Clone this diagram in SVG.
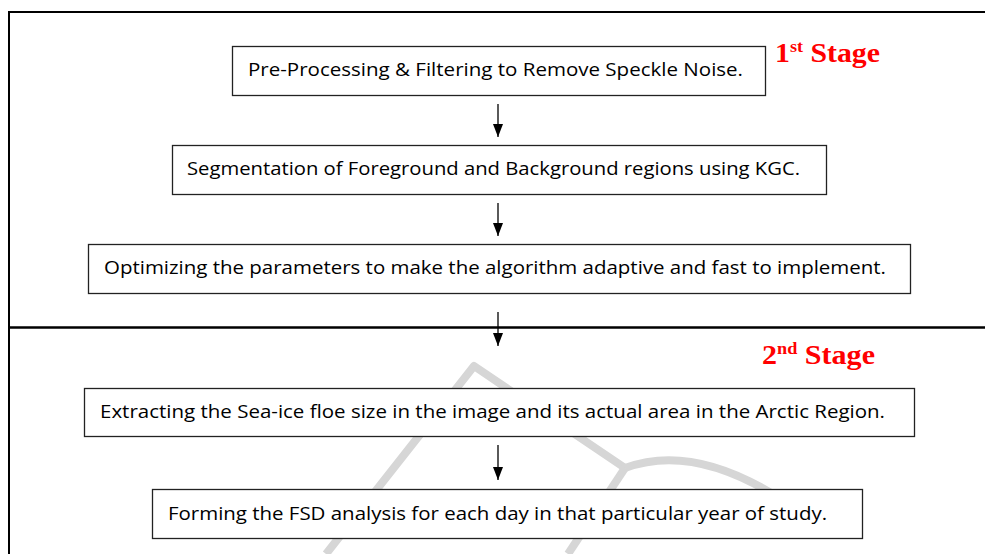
<svg xmlns="http://www.w3.org/2000/svg" width="985" height="554" viewBox="0 0 985 554">
<defs>
<style>
.box{fill:#fff;stroke:#222;stroke-width:1.3}
.t{font-family:"Open Sans","Noto Sans",sans-serif;font-size:19px;fill:#000}
.stage{font-family:"Liberation Serif",serif;font-weight:bold;font-size:28px;fill:#f00}
.sup{font-size:17px}
.frame{stroke:#000;stroke-width:2;fill:none}
.conn line{stroke:#000;stroke-width:1.3}
</style>
<marker id="ah2" markerWidth="10" markerHeight="13" refX="5" refY="13" orient="0" markerUnits="userSpaceOnUse" viewBox="0 0 10 13">
<path d="M0,0 L10,0 L5,13 Z" fill="#000"/>
</marker>
</defs>
<rect width="985" height="554" fill="#fff"/>
<g id="frame">
<path class="frame" d="M9,554 L9,12 L985,12"/>
<line x1="9" y1="327.5" x2="985" y2="327.5" stroke="#000" stroke-width="2.5"/>
</g>
<g id="watermark" fill="none" stroke="#d6d6d6" stroke-width="8" stroke-linejoin="round">
<path d="M326,554 L474,366 L625,468"/>
<path d="M625,468 Q700,440 800,512"/>
<path d="M625,468 L568,554"/>
</g>
<g id="connectors" class="conn">
<line x1="498" y1="104" x2="498" y2="137" marker-end="url(#ah2)"/>
<line x1="498" y1="203" x2="498" y2="236" marker-end="url(#ah2)"/>
<line x1="498" y1="312" x2="498" y2="346" marker-end="url(#ah2)"/>
<line x1="498" y1="445" x2="498" y2="480" marker-end="url(#ah2)"/>
</g>
<g id="n1">
<rect class="box" x="232.5" y="46.5" width="533" height="49"/>
<text class="t" x="248" y="76" textLength="495" lengthAdjust="spacingAndGlyphs">Pre-Processing &amp; Filtering to Remove Speckle Noise.</text>
</g>
<g id="stage1">
<text class="stage" x="775" y="62" textLength="105" lengthAdjust="spacingAndGlyphs">1<tspan class="sup" dy="-10">st</tspan><tspan dy="10"> Stage</tspan></text>
</g>
<g id="n2">
<rect class="box" x="172.5" y="145.5" width="654" height="49"/>
<text class="t" x="187" y="175" textLength="613" lengthAdjust="spacingAndGlyphs">Segmentation of Foreground and Background regions using KGC.</text>
</g>
<g id="n3">
<rect class="box" x="88.5" y="244.5" width="822" height="49"/>
<text class="t" x="104" y="274" textLength="782" lengthAdjust="spacingAndGlyphs">Optimizing the parameters to make the algorithm adaptive and fast to implement.</text>
</g>
<g id="stage2">
<text class="stage" x="762" y="364" textLength="113" lengthAdjust="spacingAndGlyphs">2<tspan class="sup" dy="-10">nd</tspan><tspan dy="10"> Stage</tspan></text>
</g>
<g id="n4">
<rect class="box" x="84.5" y="388.5" width="830" height="48"/>
<text class="t" x="100" y="418" textLength="785" lengthAdjust="spacingAndGlyphs">Extracting the Sea-ice floe size in the image and its actual area in the Arctic Region.</text>
</g>
<g id="n5">
<rect class="box" x="152.5" y="489.5" width="710" height="49"/>
<text class="t" x="168" y="520" textLength="659" lengthAdjust="spacingAndGlyphs">Forming the FSD analysis for each day in that particular year of study.</text>
</g>
</svg>
